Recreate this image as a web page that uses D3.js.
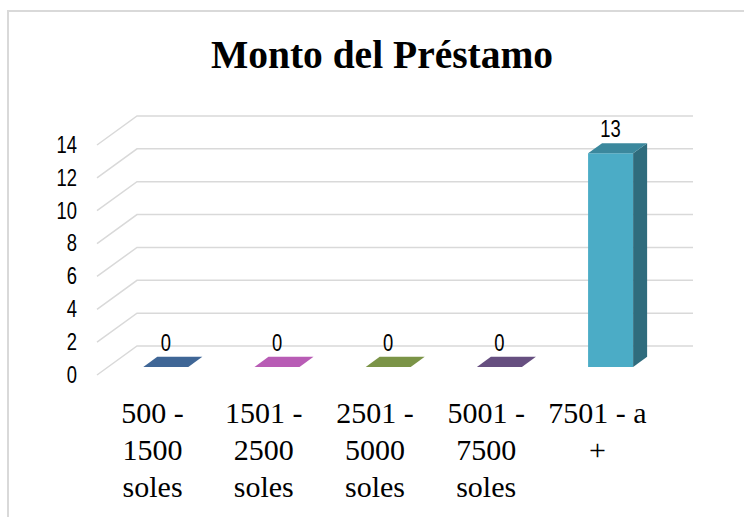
<!DOCTYPE html>
<html>
<head>
<meta charset="utf-8">
<script src="https://cdn.jsdelivr.net/npm/d3@7"></script>
<style>
  body { margin: 0; background: #fff; }
  svg { display: block; }
</style>
</head>
<body>
<script>
// chart data
let categories = [
    ['500 -', '1500', 'soles'],
    ['1501 -', '2500', 'soles'],
    ['2501 -', '5000', 'soles'],
    ['5001 -', '7500', 'soles'],
    ['7501 - a', '+']
];
let values = [0, 0, 0, 0, 13];
let barColors = ['#4f81bd', '#e874e4', '#9bbb59', '#8064a2', '#4bacc6'];
let yTicks = [0, 2, 4, 6, 8, 10, 12, 14];
let title = 'Monto del Préstamo';

//set chart constants
let totalWidth = 744;
let totalHeight = 517;
let plot = { left: 97, right: 653, floor: 375, top: 145 };
let depth = { dx: 40, dy: -29 };     // oblique offset of the back wall
let barDepth = [0.28, 0.63];        // front / back of the bars, as share of depth
let barShift = 2;
let narrow = 'scale(0.8,1)';        // the original uses a condensed sans

let svg = d3.select('body')
    .append('svg')
    .attr('width', totalWidth)
    .attr('height', totalHeight);

//chart border
svg.append('rect')
    .attr('x', 8)
    .attr('y', 11)
    .attr('width', 760)
    .attr('height', 530)
    .attr('fill', 'none')
    .attr('stroke', '#d9d9d9')
    .attr('stroke-width', 2);

svg.append('text')
    .attr('x', 382)
    .attr('y', 68)
    .attr('text-anchor', 'middle')
    .style('font-family', '"Liberation Serif", "Times New Roman", serif')
    .style('font-weight', 'bold')
    .style('font-size', '39.5px')
    .text(title);

let xScale = d3.scaleBand()
    .domain(d3.range(categories.length))
    .range([plot.left, plot.right])
    .paddingInner(0.595)
    .paddingOuter(0.2975);

let yScale = d3.scaleLinear()
    .domain([0, 14])
    .range([plot.floor, plot.top]);

//gridlines: side wall diagonal + back wall
svg.append('g')
    .selectAll('path')
    .data(yTicks)
    .enter()
    .append('path')
    .attr('d', function(d){
        let y = yScale(d);
        return `M${plot.left},${y}L${plot.left + depth.dx},${y + depth.dy}L${plot.right + depth.dx},${y + depth.dy}`;
    })
    .attr('fill', 'none')
    .attr('stroke', '#d9d9d9')
    .attr('stroke-width', 1.5);

//y axis labels
let yAxis = d3.axisLeft(yScale)
    .tickValues(yTicks)
    .tickSize(0)
    .tickPadding(0);

let yAxisG = svg.append('g')
    .attr('transform', 'translate(77,0)')
    .call(yAxis);
yAxisG.select('.domain').remove();
yAxisG.selectAll('text')
    .attr('transform', narrow)
    .style('font-family', '"Liberation Sans", Arial, sans-serif')
    .style('font-size', '23px')
    .attr('fill', '#000');

//bars
function pt(x, y, t){
    return [x + t * depth.dx, y + t * depth.dy];
}
function poly(points){
    return 'M' + points.map(p => p.join(',')).join('L') + 'Z';
}

let bars = svg.append('g')
    .selectAll('g')
    .data(values)
    .enter()
    .append('g');

bars.each(function(v, i){
    let g = d3.select(this);
    let x1 = xScale(i) + barShift;
    let x2 = x1 + xScale.bandwidth();
    let y0 = yScale(0);
    let y1 = yScale(v);
    let base = d3.color(barColors[i]);
    let t1 = barDepth[0], t2 = barDepth[1];

    if (v > 0) {
        //front face
        g.append('path')
            .attr('d', poly([pt(x1, y1, t1), pt(x2, y1, t1), pt(x2, y0, t1), pt(x1, y0, t1)]))
            .attr('fill', base.formatHex());
        //side face
        g.append('path')
            .attr('d', poly([pt(x2, y1, t1), pt(x2, y1, t2), pt(x2, y0, t2), pt(x2, y0, t1)]))
            .attr('fill', base.darker(1.3).formatHex());
    }
    //top face
    g.append('path')
        .attr('d', poly([pt(x1, y1, t1), pt(x2, y1, t1), pt(x2, y1, t2), pt(x1, y1, t2)]))
        .attr('fill', base.darker(0.65).formatHex());

    //value label
    let c = pt((x1 + x2) / 2, y1, t1);
    g.append('text')
        .attr('transform', `translate(${c[0]},${pt(0, y1, t2)[1] - 6}) ${narrow}`)
        .attr('text-anchor', 'middle')
        .style('font-family', '"Liberation Sans", Arial, sans-serif')
        .style('font-size', '23px')
        .text(v);
});

//category labels, wrapped as in the original
let catLabels = svg.append('g')
    .selectAll('text')
    .data(categories)
    .enter()
    .append('text')
    .attr('text-anchor', 'middle')
    .style('font-family', '"Liberation Serif", "Times New Roman", serif')
    .style('font-size', '30px');

catLabels.each(function(lines, i){
    let cx = xScale(i) + xScale.bandwidth() / 2;
    d3.select(this)
        .selectAll('tspan')
        .data(lines)
        .enter()
        .append('tspan')
        .attr('x', cx)
        .attr('y', function(d, j){ return 423 + j * 37; })
        .text(d => d);
});
</script>
</body>
</html>
